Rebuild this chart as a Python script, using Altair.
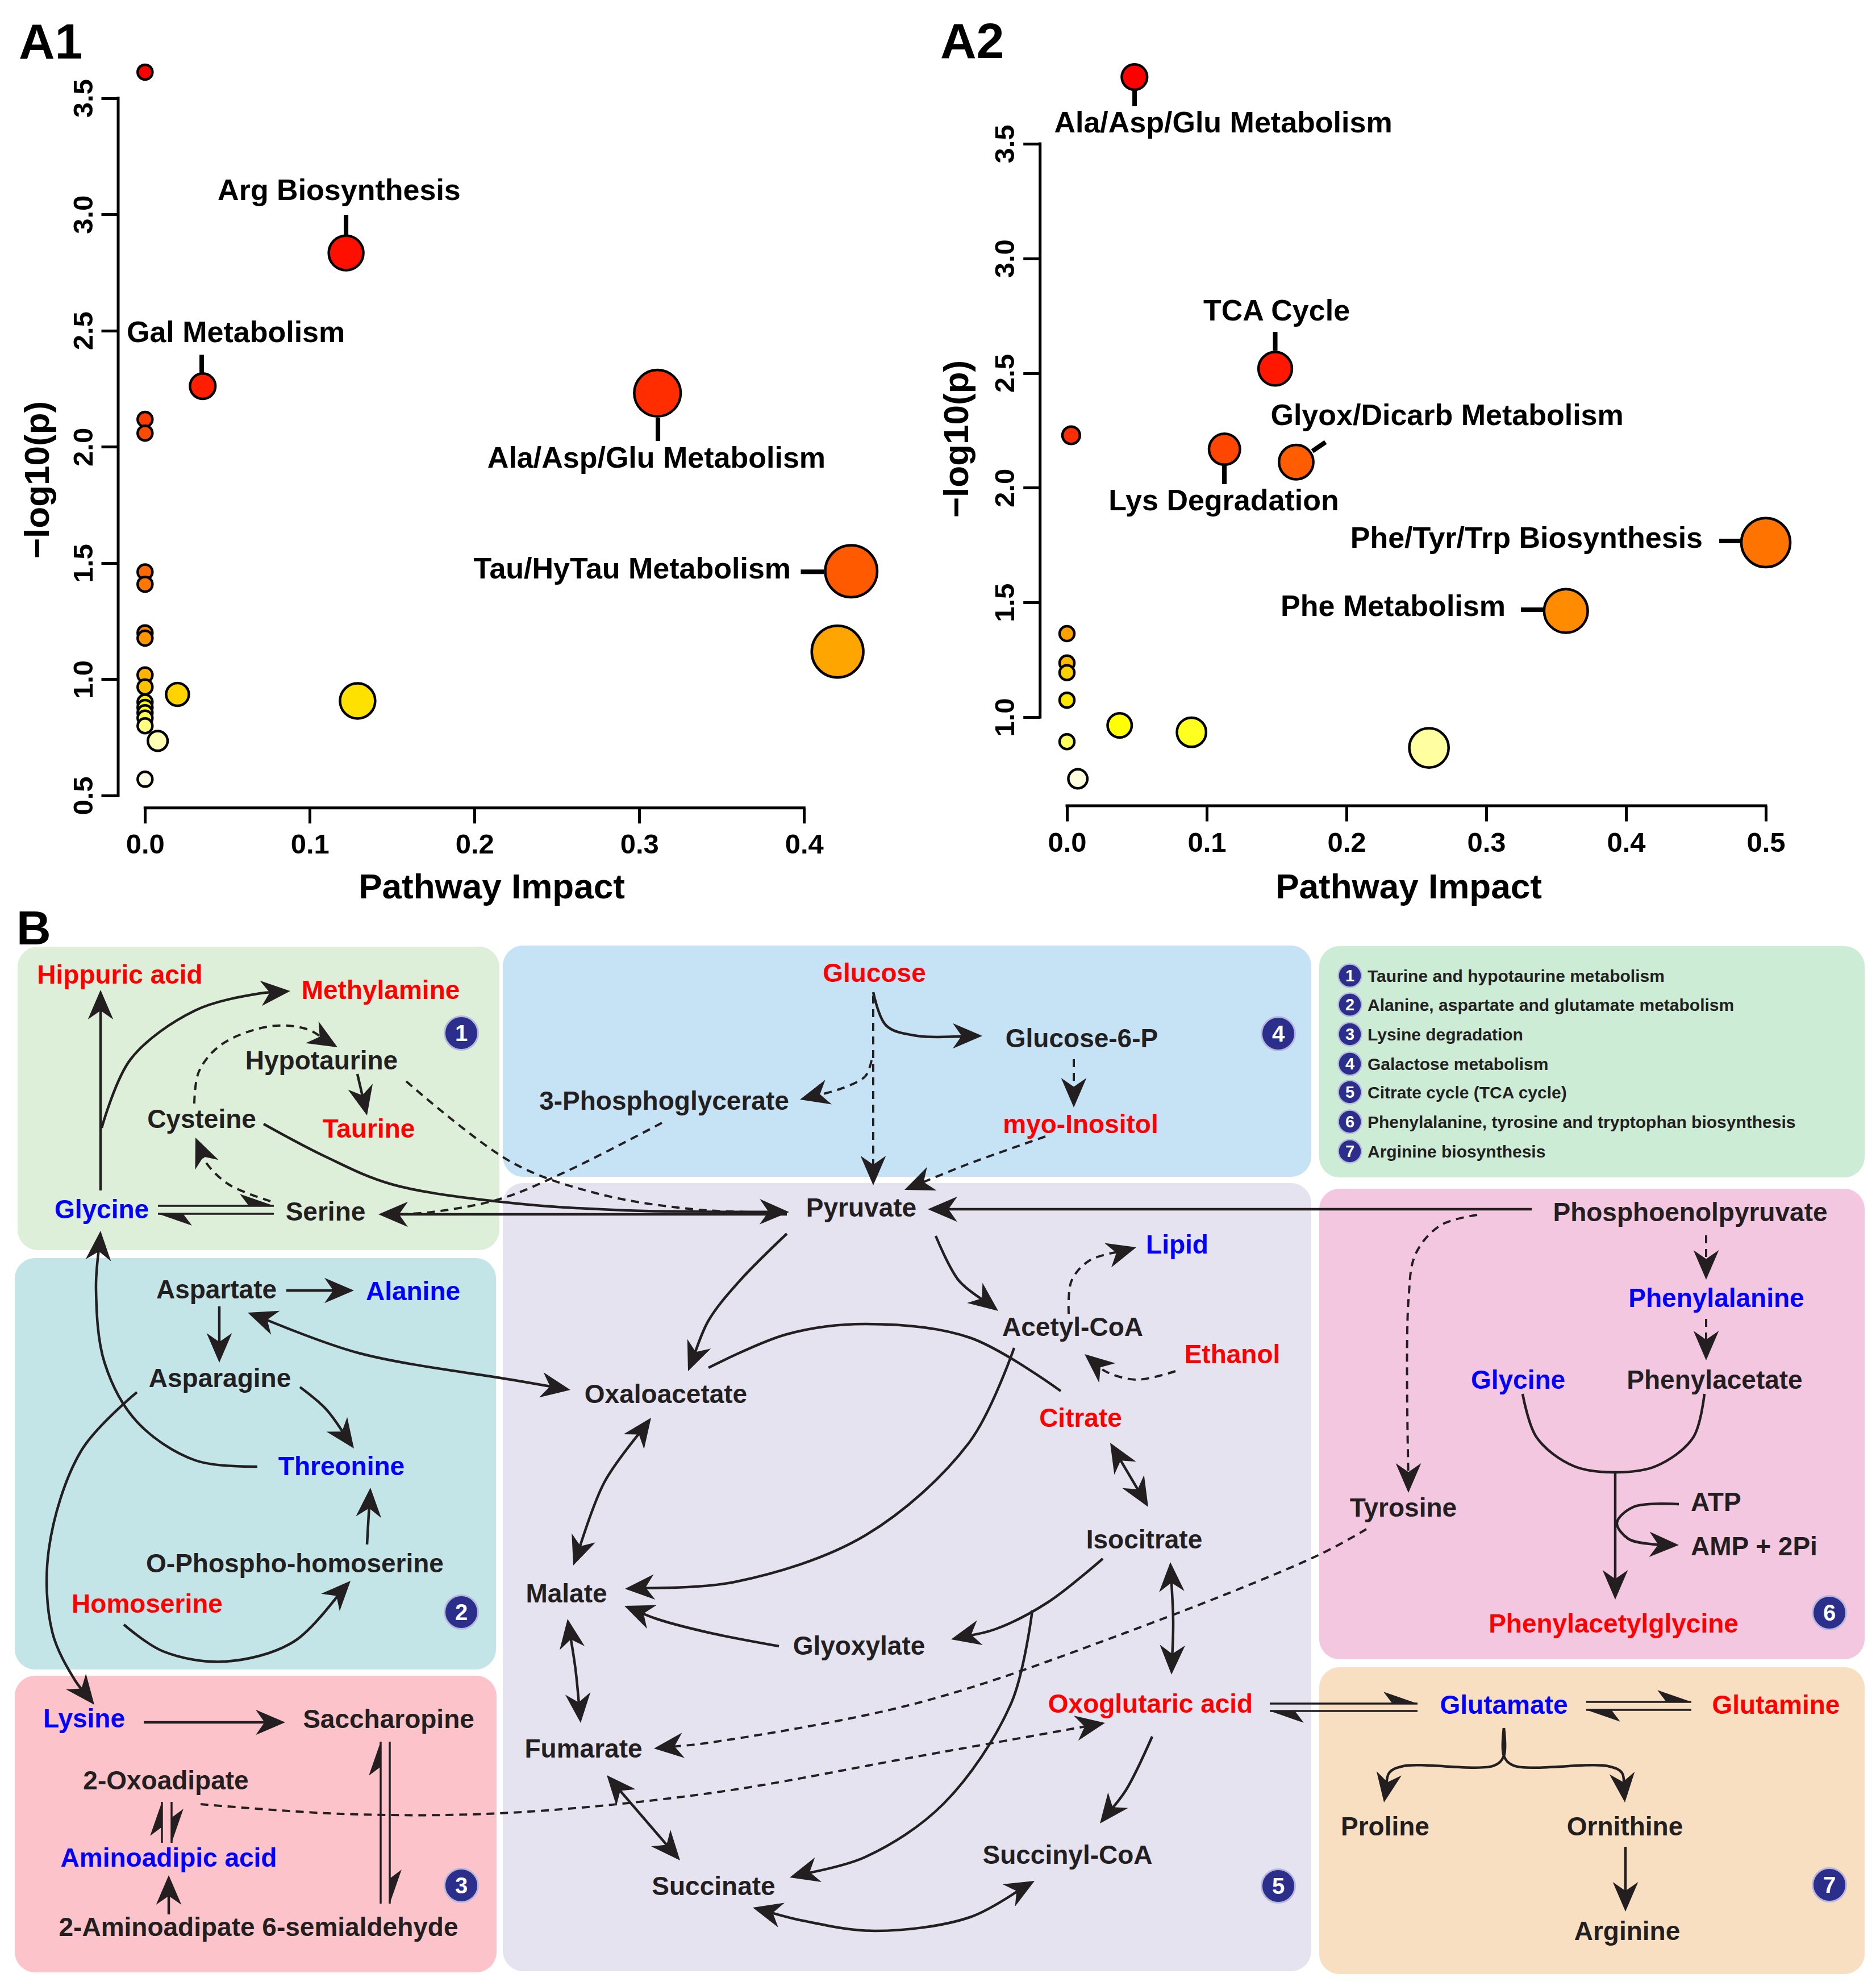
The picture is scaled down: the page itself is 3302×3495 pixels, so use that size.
import math
import colorsys
import altair as alt
import pandas as pd

W, H = 3286, 3479          # plot area; page margin of 8px -> reference pixels 8..3294 / 8..3487
M = 8
FONT = "Liberation Sans"
INK = "#231f20"
RED, BLUE = "#ff0000", "#0000ff"

# ======================= Panel A1 data =======================
a1_impact = [0.0, 0.122, 0.035, 0.311, 0.0, 0.0, 0.4286, 0.0, 0.0, 0.0, 0.0, 0.4203,
             0.0, 0.0, 0.0197, 0.129, 0.0, 0.0, 0.0, 0.0, 0.0, 0.0077, 0.0]
a1_logp = [3.612, 2.834, 2.261, 2.231, 2.118, 2.059, 1.465, 1.462, 1.409, 1.200, 1.177, 1.119,
           1.019, 0.967, 0.935, 0.907, 0.902, 0.879, 0.856, 0.833, 0.800, 0.735, 0.570]
a1_lab_text = ["Arg Biosynthesis", "Gal Metabolism", "Ala/Asp/Glu Metabolism", "Tau/HyTau Metabolism"]
a1_lab_x = [0.1178, 0.0551, 0.3104, 0.392]
a1_lab_y = [3.0616, 2.4504, 1.9115, 1.4333]
a1_lab_align = ["center", "center", "center", "right"]
a1_lead = [(0.122, 2.998, 0.122, 2.912), (0.0344, 2.396, 0.0344, 2.313),
           (0.3113, 2.125, 0.3113, 2.025), (0.398, 1.4626, 0.412, 1.4626)]
a1_xticks = [0.0, 0.1, 0.2, 0.3, 0.4]
a1_yticks = [0.5, 1.0, 1.5, 2.0, 2.5, 3.0, 3.5]

# ======================= Panel A2 data =======================
a2_impact = [0.0483, 0.149, 0.003, 0.1127, 0.164, 0.5, 0.357, 0.0, 0.0, 0.0, 0.0,
             0.0377, 0.0891, 0.0, 0.259, 0.0078]
a2_logp = [3.791, 2.519, 2.229, 2.168, 2.112, 1.761, 1.463, 1.364, 1.236, 1.194, 1.074,
           0.964, 0.934, 0.893, 0.866, 0.731]
a2_lab_text = ["Ala/Asp/Glu Metabolism", "TCA Cycle", "Glyox/Dicarb Metabolism",
               "Lys Degradation", "Phe/Tyr/Trp Biosynthesis", "Phe Metabolism"]
a2_lab_x = [0.1118, 0.150, 0.272, 0.1122, 0.4549, 0.3138]
a2_lab_y = [3.550, 2.7287, 2.2735, 1.9019, 1.7376, 1.4418]
a2_lab_align = ["center", "center", "center", "center", "right", "right"]
a2_lead = [(0.0484, 3.735, 0.0484, 3.664), (0.149, 2.680, 0.149, 2.598),
           (0.1756, 2.160, 0.185, 2.199), (0.1126, 2.105, 0.1126, 2.016),
           (0.4667, 1.768, 0.4817, 1.768), (0.3248, 1.468, 0.3407, 1.468)]
a2_xticks = [0.0, 0.1, 0.2, 0.3, 0.4, 0.5]
a2_yticks = [1.0, 1.5, 2.0, 2.5, 3.0, 3.5]

# ======================= Panel B data =======================
box_id = ["g1", "g2", "g3", "g4", "g5", "leg", "g6", "g7"]
box_x1 = [31, 26, 26, 885, 885, 2322, 2322, 2322]
box_x2 = [879, 873, 874, 2308, 2308, 3282, 3282, 3282]
box_y1 = [1666, 2214, 2949, 1664, 2082, 1665, 2092, 2934]
box_y2 = [2200, 2938, 3471, 2071, 3469, 2072, 2920, 3474]
box_palette = {"g1": "#ddefd8", "g2": "#c3e5e7", "g3": "#fcc4ca", "g4": "#c6e3f6",
               "g5": "#e5e3ef", "leg": "#cdecd6", "g6": "#f4c7e1", "g7": "#f9dfc1"}

node_text = ["Hippuric acid", "Methylamine", "Hypotaurine", "Cysteine", "Taurine", "Glycine",
             "Serine", "Aspartate", "Alanine", "Asparagine", "Threonine", "O-Phospho-homoserine",
             "Homoserine", "Lysine", "Saccharopine", "2-Oxoadipate", "Aminoadipic acid",
             "2-Aminoadipate 6-semialdehyde", "Glucose", "Glucose-6-P", "3-Phosphoglycerate",
             "myo-Inositol", "Pyruvate", "Lipid", "Acetyl-CoA", "Ethanol", "Oxaloacetate",
             "Citrate", "Isocitrate", "Malate", "Glyoxylate", "Oxoglutaric acid", "Fumarate",
             "Succinyl-CoA", "Succinate", "Phosphoenolpyruvate", "Phenylalanine", "Glycine",
             "Phenylacetate", "Tyrosine", "Phenylacetylglycine", "Glutamate", "Glutamine",
             "Proline", "Ornithine", "Arginine"]
node_x = [211, 670, 566, 355, 649, 179, 573, 381, 727, 387, 601, 519, 259, 148, 684, 292, 297,
          455, 1539, 1904, 1169, 1902, 1516, 2072, 1888, 2169, 1172, 1902, 2014, 997, 1512, 2025,
          1027, 1879, 1256, 2975, 3021, 2672, 3018, 2470, 2840, 2647, 3126, 2438, 2860, 2864]
node_y = [1731, 1758, 1882, 1985, 2002, 2144, 2148, 2285, 2288, 2441, 2596, 2767, 2838, 3040,
          3041, 3149, 3285, 3407, 1728, 1843, 1953, 1994, 2141, 2206, 2351, 2399, 2469, 2511,
          2725, 2820, 2912, 3014, 3093, 3280, 3335, 2149, 2300, 2444, 2444, 2669, 2873, 3016,
          3016, 3230, 3230, 3414]
node_col = ["r", "r", "k", "k", "r", "b", "k", "k", "b", "k", "b", "k", "r", "b", "k", "k", "b",
            "k", "r", "k", "k", "r", "k", "b", "k", "r", "k", "r", "k", "k", "k", "r", "k", "k",
            "k", "k", "b", "b", "k", "k", "r", "b", "r", "k", "k", "k"]
side_text = ["ATP", "AMP + 2Pi"]
side_x = [2976, 2976]
side_y = [2659, 2737]

badge_num = ["1", "2", "3", "4", "5", "6", "7"]
badge_x = [812, 812, 812, 2250, 2250, 3220, 3220]
badge_y = [1818, 2837, 3318, 1819, 3319, 2838, 3317]

legend_text = ["Taurine and hypotaurine metabolism",
               "Alanine, aspartate and glutamate metabolism",
               "Lysine degradation", "Galactose metabolism", "Citrate cycle (TCA cycle)",
               "Phenylalanine, tyrosine and tryptophan biosynthesis", "Arginine biosynthesis"]
legend_y = [1717, 1768, 1820, 1872, 1922, 1974, 2026]
legend_badge_x = 2376
legend_text_x = 2407

panel_text = ["A1", "A2", "B"]
panel_x = [33, 1655, 29]
panel_y = [103, 102, 1662]
panel_size = [88, 88, 84]

# connectors: (style, control points, arrow at start, arrow at end)
paths = [
    ("s", [(177, 2095), (177, 1742)], 0, 1),
    ("s", [(179, 1985), (230, 1864), (344, 1778), (459, 1748), (511, 1744)], 0, 1),
    ("d", [(342, 1942), (350, 1886), (390, 1838), (476, 1806), (540, 1811), (594, 1843)], 0, 1),
    ("s", [(629, 1890), (646, 1963)], 0, 1),
    ("d", [(476, 2114), (402, 2084), (362, 2045), (344, 2002)], 0, 1),
    ("s", [(464, 1978), (574, 2036), (689, 2084), (900, 2117), (1100, 2130), (1389, 2133)], 0, 1),
    ("s", [(1385, 2137), (666, 2137)], 0, 1),
    ("d", [(715, 1903), (900, 2045), (1050, 2100), (1220, 2128), (1380, 2134)], 0, 0),
    ("d", [(1165, 1976), (1000, 2060), (880, 2110), (760, 2133), (700, 2137)], 0, 0),
    ("s", [(504, 2271), (623, 2271)], 0, 1),
    ("s", [(386, 2299), (386, 2398)], 0, 1),
    ("s", [(436, 2310), (631, 2381), (900, 2428), (1004, 2446)], 1, 1),
    ("s", [(528, 2441), (574, 2480), (623, 2549)], 0, 1),
    ("s", [(453, 2581), (344, 2570), (241, 2502), (184, 2398), (169, 2269), (177, 2166)], 0, 1),
    ("s", [(241, 2450), (143, 2553), (86, 2726), (92, 2872), (132, 2957), (166, 3000)], 0, 1),
    ("s", [(646, 2718), (649, 2665), (652, 2618)], 0, 1),
    ("s", [(218, 2859), (287, 2906), (396, 2924), (517, 2889), (617, 2782)], 0, 1),
    ("s", [(253, 3031), (502, 3031)], 0, 1),
    ("s", [(297, 3369), (297, 3300)], 0, 1),
    ("d", [(353, 3175), (600, 3192), (880, 3191), (1247, 3156), (1615, 3091), (1945, 3032)], 0, 1),
    ("s", [(1537, 1746), (1560, 1805), (1615, 1823), (1729, 1823)], 0, 1),
    ("d", [(1537, 1752), (1537, 2086)], 0, 1),
    ("d", [(1534, 1866), (1523, 1894), (1477, 1917), (1408, 1935)], 0, 1),
    ("d", [(1890, 1864), (1890, 1949)], 0, 1),
    ("d", [(1840, 2000), (1700, 2050), (1592, 2094)], 0, 1),
    ("s", [(2696, 2128), (1633, 2128)], 0, 1),
    ("s", [(1385, 2171), (1302, 2254), (1247, 2324), (1211, 2413)], 0, 1),
    ("s", [(1647, 2175), (1688, 2254), (1757, 2307)], 0, 1),
    ("d", [(1881, 2312), (1886, 2254), (1918, 2218), (2000, 2195)], 0, 1),
    ("d", [(2069, 2413), (2000, 2428), (1945, 2413), (1909, 2383)], 0, 1),
    ("s", [(1247, 2407), (1385, 2348), (1523, 2330), (1707, 2354), (1867, 2448)], 0, 0),
    ("s", [(1785, 2372), (1707, 2537), (1523, 2702), (1293, 2784), (1100, 2796)], 0, 1),
    ("s", [(1146, 2495), (1064, 2608), (1009, 2755)], 1, 1),
    ("s", [(1954, 2539), (2021, 2652)], 1, 1),
    ("s", [(1941, 2743), (1844, 2820), (1752, 2867), (1674, 2885)], 0, 1),
    ("s", [(1371, 2897), (1247, 2873), (1156, 2849), (1099, 2826)], 0, 1),
    ("s", [(1817, 2834), (1780, 2997), (1661, 3174), (1523, 3268), (1390, 3304)], 0, 1),
    ("s", [(2060, 2749), (2065, 2855), (2062, 2947)], 1, 1),
    ("s", [(2028, 3056), (1982, 3150), (1936, 3209)], 0, 1),
    ("s", [(1821, 3310), (1707, 3374), (1541, 3398), (1413, 3380), (1325, 3357)], 1, 1),
    ("s", [(1068, 3124), (1197, 3274)], 1, 1),
    ("s", [(999, 2849), (1013, 2938), (1022, 3032)], 1, 1),
    ("d", [(2405, 2691), (2320, 2737), (1982, 2873), (1615, 2997), (1247, 3067), (1151, 3077)], 0, 1),
    ("d", [(3003, 2174), (3003, 2252)], 0, 1),
    ("d", [(3003, 2321), (3003, 2394)], 0, 1),
    ("d", [(2600, 2138), (2536, 2156), (2492, 2206), (2479, 2289), (2479, 2627)], 0, 1),
    ("s", [(2680, 2453), (2705, 2530), (2770, 2580), (2843, 2591), (2915, 2580), (2980, 2530),
           (3000, 2453)], 0, 0),
    ("s", [(2843, 2591), (2843, 2815)], 0, 1),
    ("s", [(2955, 2647), (2875, 2652), (2846, 2680), (2866, 2708), (2913, 2718), (2955, 2719)], 0, 1),
    ("s", [(2647, 3041), (2647, 3090), (2630, 3107), (2470, 3108), (2445, 3120), (2436, 3172)], 0, 1),
    ("s", [(2647, 3041), (2647, 3090), (2664, 3107), (2830, 3108), (2855, 3120), (2860, 3172)], 0, 1),
    ("s", [(2861, 3250), (2861, 3364)], 0, 1),
]
# equilibrium half-arrows: (start, tip)
harpoons = [
    ((278, 2122), (482, 2122)), ((482, 2136), (278, 2136)),
    ((670, 3350), (670, 3065)), ((686, 3065), (686, 3350)),
    ((285, 3243), (285, 3171)), ((302, 3171), (302, 3243)),
    ((2235, 2998), (2495, 2998)), ((2495, 3011), (2235, 3011)),
    ((2792, 2995), (2977, 2995)), ((2977, 3009), (2792, 3009)),
]

FULL_HEAD = "M0,0L0.43,1L0,0.7L-0.43,1Z"
HALF_HEAD = "M0,0L-0.4,1.15L0,0.85Z"


# ======================= helpers =======================
def heat_colors(n):
    j = n // 4
    i = n - j
    out = []

    def hx(h, s, v):
        r, g, b = colorsys.hsv_to_rgb(h, s, v)
        return "#%02x%02x%02x" % (round(r * 255), round(g * 255), round(b * 255))
    for k in range(i):
        out.append(hx((1 / 6) * k / (i - 1) if i > 1 else 0.0, 1, 1))
    for k in range(j):
        s0, s1 = 1 - 1 / (2 * j), 1 / (2 * j)
        out.append(hx(1 / 6, s0 + (s1 - s0) * (k / (j - 1) if j > 1 else 0), 1))
    return out


def lin(v1, p1, v2, p2):
    b = (p2 - p1) / (v2 - v1)
    return (p1 - b * v1, b)


def val(m, p):
    return (p - m[0]) / m[1]


def dom(m, size):
    return sorted([val(m, M), val(m, M + size)])


def angle_of(dx, dy):
    return (math.degrees(math.atan2(dx, -dy)) + 360) % 360


def scatter_panel(impact, logp, k, mx, my, xticks, yticks, yaxis_px, xaxis_px,
                  xtitle_x, ytitle_x, ytitle_y, lab_text, lab_x, lab_y, lab_align, leads):
    n = len(impact)
    df = pd.DataFrame({"impact": impact, "logp": logp})
    df["rank"] = df["logp"].rank(ascending=False, method="first").astype(int)
    xs = alt.Scale(domain=dom(mx, W), nice=False, zero=False)
    ys = alt.Scale(domain=dom(my, H), nice=False, zero=False)
    xa = alt.Axis(orient="bottom", offset=-(H - (xaxis_px - M)), values=xticks, format=".1f",
                  domain=False, grid=False, tickSize=27, tickWidth=5, tickColor="black",
                  labelFont=FONT, labelFontSize=49, labelFontWeight="bold", labelColor="black",
                  labelAlign="center", labelBaseline="alphabetic", labelPadding=53,
                  labelOverlap=False, labelFlush=False,
                  title="Pathway Impact", titleFont=FONT, titleFontSize=62, titleFontWeight="bold",
                  titleColor="black", titleX=xtitle_x - M, titleY=1580 - xaxis_px,
                  titleAlign="center", titleBaseline="alphabetic", titleAngle=0)
    ya = alt.Axis(orient="left", offset=-(yaxis_px - M), values=yticks, format=".1f",
                  domain=False, grid=False, tickSize=30, tickWidth=5, tickColor="black",
                  labelFont=FONT, labelFontSize=49, labelFontWeight="bold", labelColor="black",
                  labelAngle=270, labelAlign="center", labelBaseline="alphabetic", labelPadding=16,
                  labelOverlap=False, labelFlush=False,
                  title="\u2212log10(p)", titleFont=FONT, titleFontSize=62, titleFontWeight="bold",
                  titleColor="black", titleX=ytitle_x - yaxis_px, titleY=ytitle_y - M,
                  titleAlign="center", titleBaseline="alphabetic", titleAngle=270)
    X = lambda f: alt.X(f, scale=xs, axis=xa)
    Y = lambda f: alt.Y(f, scale=ys, axis=ya)

    ax_df = pd.DataFrame({"x": [val(mx, yaxis_px), xticks[0]],
                          "x2": [val(mx, yaxis_px), xticks[-1]],
                          "y": [yticks[0], val(my, xaxis_px)],
                          "y2": [yticks[-1], val(my, xaxis_px)]})
    axis_lines = alt.Chart(ax_df).mark_rule(color="black", strokeWidth=5, strokeCap="square").encode(
        x=X("x:Q"), x2="x2:Q", y=Y("y:Q"), y2="y2:Q")

    ld = pd.DataFrame(leads, columns=["x", "y", "x2", "y2"])
    leaders = alt.Chart(ld).mark_rule(color="black", strokeWidth=8).encode(
        x=X("x:Q"), x2="x2:Q", y=Y("y:Q"), y2="y2:Q")

    pts = alt.Chart(df).transform_calculate(
        d=f"pow(26 + {k} * sqrt(datum.impact), 2)"
    ).mark_circle(opacity=1, stroke="black", strokeWidth=4.5).encode(
        x=X("impact:Q"), y=Y("logp:Q"),
        fill=alt.Fill("rank:O", scale=alt.Scale(domain=list(range(1, n + 1)), range=heat_colors(n)),
                      legend=None),
        size=alt.Size("d:Q", scale=None),
        order=alt.Order("rank:Q"))

    lab = pd.DataFrame({"t": lab_text, "x": lab_x, "y": lab_y, "a": lab_align})
    layers = [axis_lines, leaders, pts]
    for al in ["center", "right"]:
        sub = lab[lab["a"] == al]
        if len(sub):
            layers.append(alt.Chart(sub).mark_text(
                font=FONT, fontSize=52, fontWeight="bold", color="black", align=al,
                baseline="alphabetic").encode(x=X("x:Q"), y=Y("y:Q"), text="t:N"))
    return alt.layer(*layers)


# ======================= Panels A1, A2 =======================
A1 = scatter_panel(a1_impact, a1_logp, 100, lin(0.0, 255.3, 0.4, 1415.3), lin(3.5, 172.7, 0.5, 1400.0),
                   a1_xticks, a1_yticks, 208.0, 1421.7, 865, 85, 844,
                   a1_lab_text, a1_lab_x, a1_lab_y, a1_lab_align, a1_lead)
A2 = scatter_panel(a2_impact, a2_logp, 85, lin(0.0, 1878.0, 0.5, 3108.0), lin(3.5, 253.0, 1.0, 1262.0),
                   a2_xticks, a2_yticks, 1830.7, 1418.0, 2479, 1703, 772,
                   a2_lab_text, a2_lab_x, a2_lab_y, a2_lab_align, a2_lead)

# ======================= Panel B (diagram, reference-pixel coordinates) =======================
sxB = alt.Scale(domain=[M, M + W], nice=False, zero=False)
syB = alt.Scale(domain=[M, M + H], reverse=True, nice=False, zero=False)
XB = lambda f: alt.X(f, scale=sxB, axis=None)
YB = lambda f: alt.Y(f, scale=syB, axis=None)

boxes = pd.DataFrame({"id": box_id, "x1": box_x1, "x2": box_x2, "y1": box_y1, "y2": box_y2})
boxes["fill"] = boxes["id"].map(box_palette)
box_layer = alt.Chart(boxes).mark_rect(cornerRadius=36).encode(
    x=XB("x1:Q"), x2="x2:Q", y=YB("y1:Q"), y2="y2:Q", color=alt.Color("fill:N", scale=None))

line_rows, head_rows = [], []
SHORT = 22
for pid, (style, pts, hs, he) in enumerate(paths):
    pts = [list(p) for p in pts]
    orig = [p[:] for p in pts]
    if he:
        (x0, y0), (x1, y1) = orig[-2], orig[-1]
        head_rows.append({"x": x1, "y": y1, "angle": angle_of(x1 - x0, y1 - y0), "kind": "full"})
        d = math.hypot(x1 - x0, y1 - y0)
        s = min(SHORT, 0.5 * d)
        pts[-1] = [x1 - (x1 - x0) / d * s, y1 - (y1 - y0) / d * s]
    if hs:
        (x0, y0), (x1, y1) = orig[1], orig[0]
        head_rows.append({"x": x1, "y": y1, "angle": angle_of(x1 - x0, y1 - y0), "kind": "full"})
        d = math.hypot(x1 - x0, y1 - y0)
        s = min(SHORT, 0.5 * d)
        pts[0] = [x1 - (x1 - x0) / d * s, y1 - (y1 - y0) / d * s]
    for i, (x, y) in enumerate(pts):
        line_rows.append({"pid": pid, "i": i, "x": x, "y": y, "style": style})
for hid, (a, b) in enumerate(harpoons):
    for i, (x, y) in enumerate([a, b]):
        line_rows.append({"pid": 1000 + hid, "i": i, "x": x, "y": y, "style": "h"})
    head_rows.append({"x": b[0], "y": b[1], "angle": angle_of(b[0] - a[0], b[1] - a[1]), "kind": "half"})

lines = pd.DataFrame(line_rows)
heads = pd.DataFrame(head_rows)


def line_layer(style, **kw):
    return alt.Chart(lines[lines["style"] == style]).mark_line(
        interpolate="catmull-rom", color=INK, **kw).encode(
        x=XB("x:Q"), y=YB("y:Q"), detail="pid:N", order="i:Q")


solid_layer = line_layer("s", strokeWidth=4.5)
dashed_layer = line_layer("d", strokeWidth=4, strokeDash=[14, 10])
harp_layer = line_layer("h", strokeWidth=3.5)

full_heads = alt.Chart(heads[heads["kind"] == "full"]).mark_point(
    shape=FULL_HEAD, filled=True, size=10816, color=INK, opacity=1, strokeWidth=0).encode(
    x=XB("x:Q"), y=YB("y:Q"), angle=alt.Angle("angle:Q", scale=None))
half_heads = alt.Chart(heads[heads["kind"] == "half"]).mark_point(
    shape=HALF_HEAD, filled=True, size=10816, color=INK, opacity=1, strokeWidth=0).encode(
    x=XB("x:Q"), y=YB("y:Q"), angle=alt.Angle("angle:Q", scale=None))

col_map = {"r": RED, "b": BLUE, "k": INK}
nodes = pd.DataFrame({"t": node_text, "x": node_x, "y": node_y})
nodes["c"] = [col_map[c] for c in node_col]
node_layer = alt.Chart(nodes).mark_text(
    font=FONT, fontSize=46, fontWeight="bold", align="center", baseline="alphabetic").encode(
    x=XB("x:Q"), y=YB("y:Q"), text="t:N", color=alt.Color("c:N", scale=None))
side_layer = alt.Chart(pd.DataFrame({"t": side_text, "x": side_x, "y": side_y})).mark_text(
    font=FONT, fontSize=46, fontWeight="bold", align="left", baseline="alphabetic", color=INK).encode(
    x=XB("x:Q"), y=YB("y:Q"), text="t:N")

badges = pd.DataFrame({"n": badge_num, "x": badge_x, "y": badge_y})
badges["ty"] = badges["y"] + 0.358 * 40
badge_dots = alt.Chart(badges).mark_circle(
    size=3481, color="#2b2e8a", opacity=1, stroke="#b8b8dc", strokeWidth=3).encode(
    x=XB("x:Q"), y=YB("y:Q"))
badge_nums = alt.Chart(badges).mark_text(
    font=FONT, fontSize=40, fontWeight="bold", color="white", align="center",
    baseline="alphabetic").encode(x=XB("x:Q"), y=YB("ty:Q"), text="n:N")

leg = pd.DataFrame({"n": badge_num, "t": legend_text, "y": legend_y})
leg["bx"] = legend_badge_x
leg["tx"] = legend_text_x
leg["ny"] = leg["y"] + 0.358 * 29
leg["ty"] = leg["y"] + 11
leg_dots = alt.Chart(leg).mark_circle(
    size=1681, color="#2b2e8a", opacity=1, stroke="#b8b8dc", strokeWidth=2.5).encode(
    x=XB("bx:Q"), y=YB("y:Q"))
leg_nums = alt.Chart(leg).mark_text(
    font=FONT, fontSize=29, fontWeight="bold", color="white", align="center",
    baseline="alphabetic").encode(x=XB("bx:Q"), y=YB("ny:Q"), text="n:N")
leg_text = alt.Chart(leg).mark_text(
    font=FONT, fontSize=30, fontWeight="bold", color=INK, align="left",
    baseline="alphabetic").encode(x=XB("tx:Q"), y=YB("ty:Q"), text="t:N")

panels = pd.DataFrame({"t": panel_text, "x": panel_x, "y": panel_y, "s": panel_size})
panel_layers = [alt.Chart(panels[panels["t"] == t]).mark_text(
    font=FONT, fontSize=int(s), fontWeight="bold", color="black", align="left",
    baseline="alphabetic").encode(x=XB("x:Q"), y=YB("y:Q"), text="t:N")
    for t, s in zip(panel_text, panel_size)]

B = alt.layer(box_layer, solid_layer, dashed_layer, harp_layer, full_heads, half_heads,
              node_layer, side_layer, badge_dots, badge_nums, leg_dots, leg_nums, leg_text,
              *panel_layers)

chart = alt.layer(B, A1, A2).resolve_scale(
    x="independent", y="independent", fill="independent", color="independent", size="independent"
).properties(
    width=W, height=H, autosize=alt.AutoSizeParams(type="none"), padding=0
).configure_view(strokeWidth=0)

chart.save("out.html", embed_options={"renderer": "svg", "actions": False})
